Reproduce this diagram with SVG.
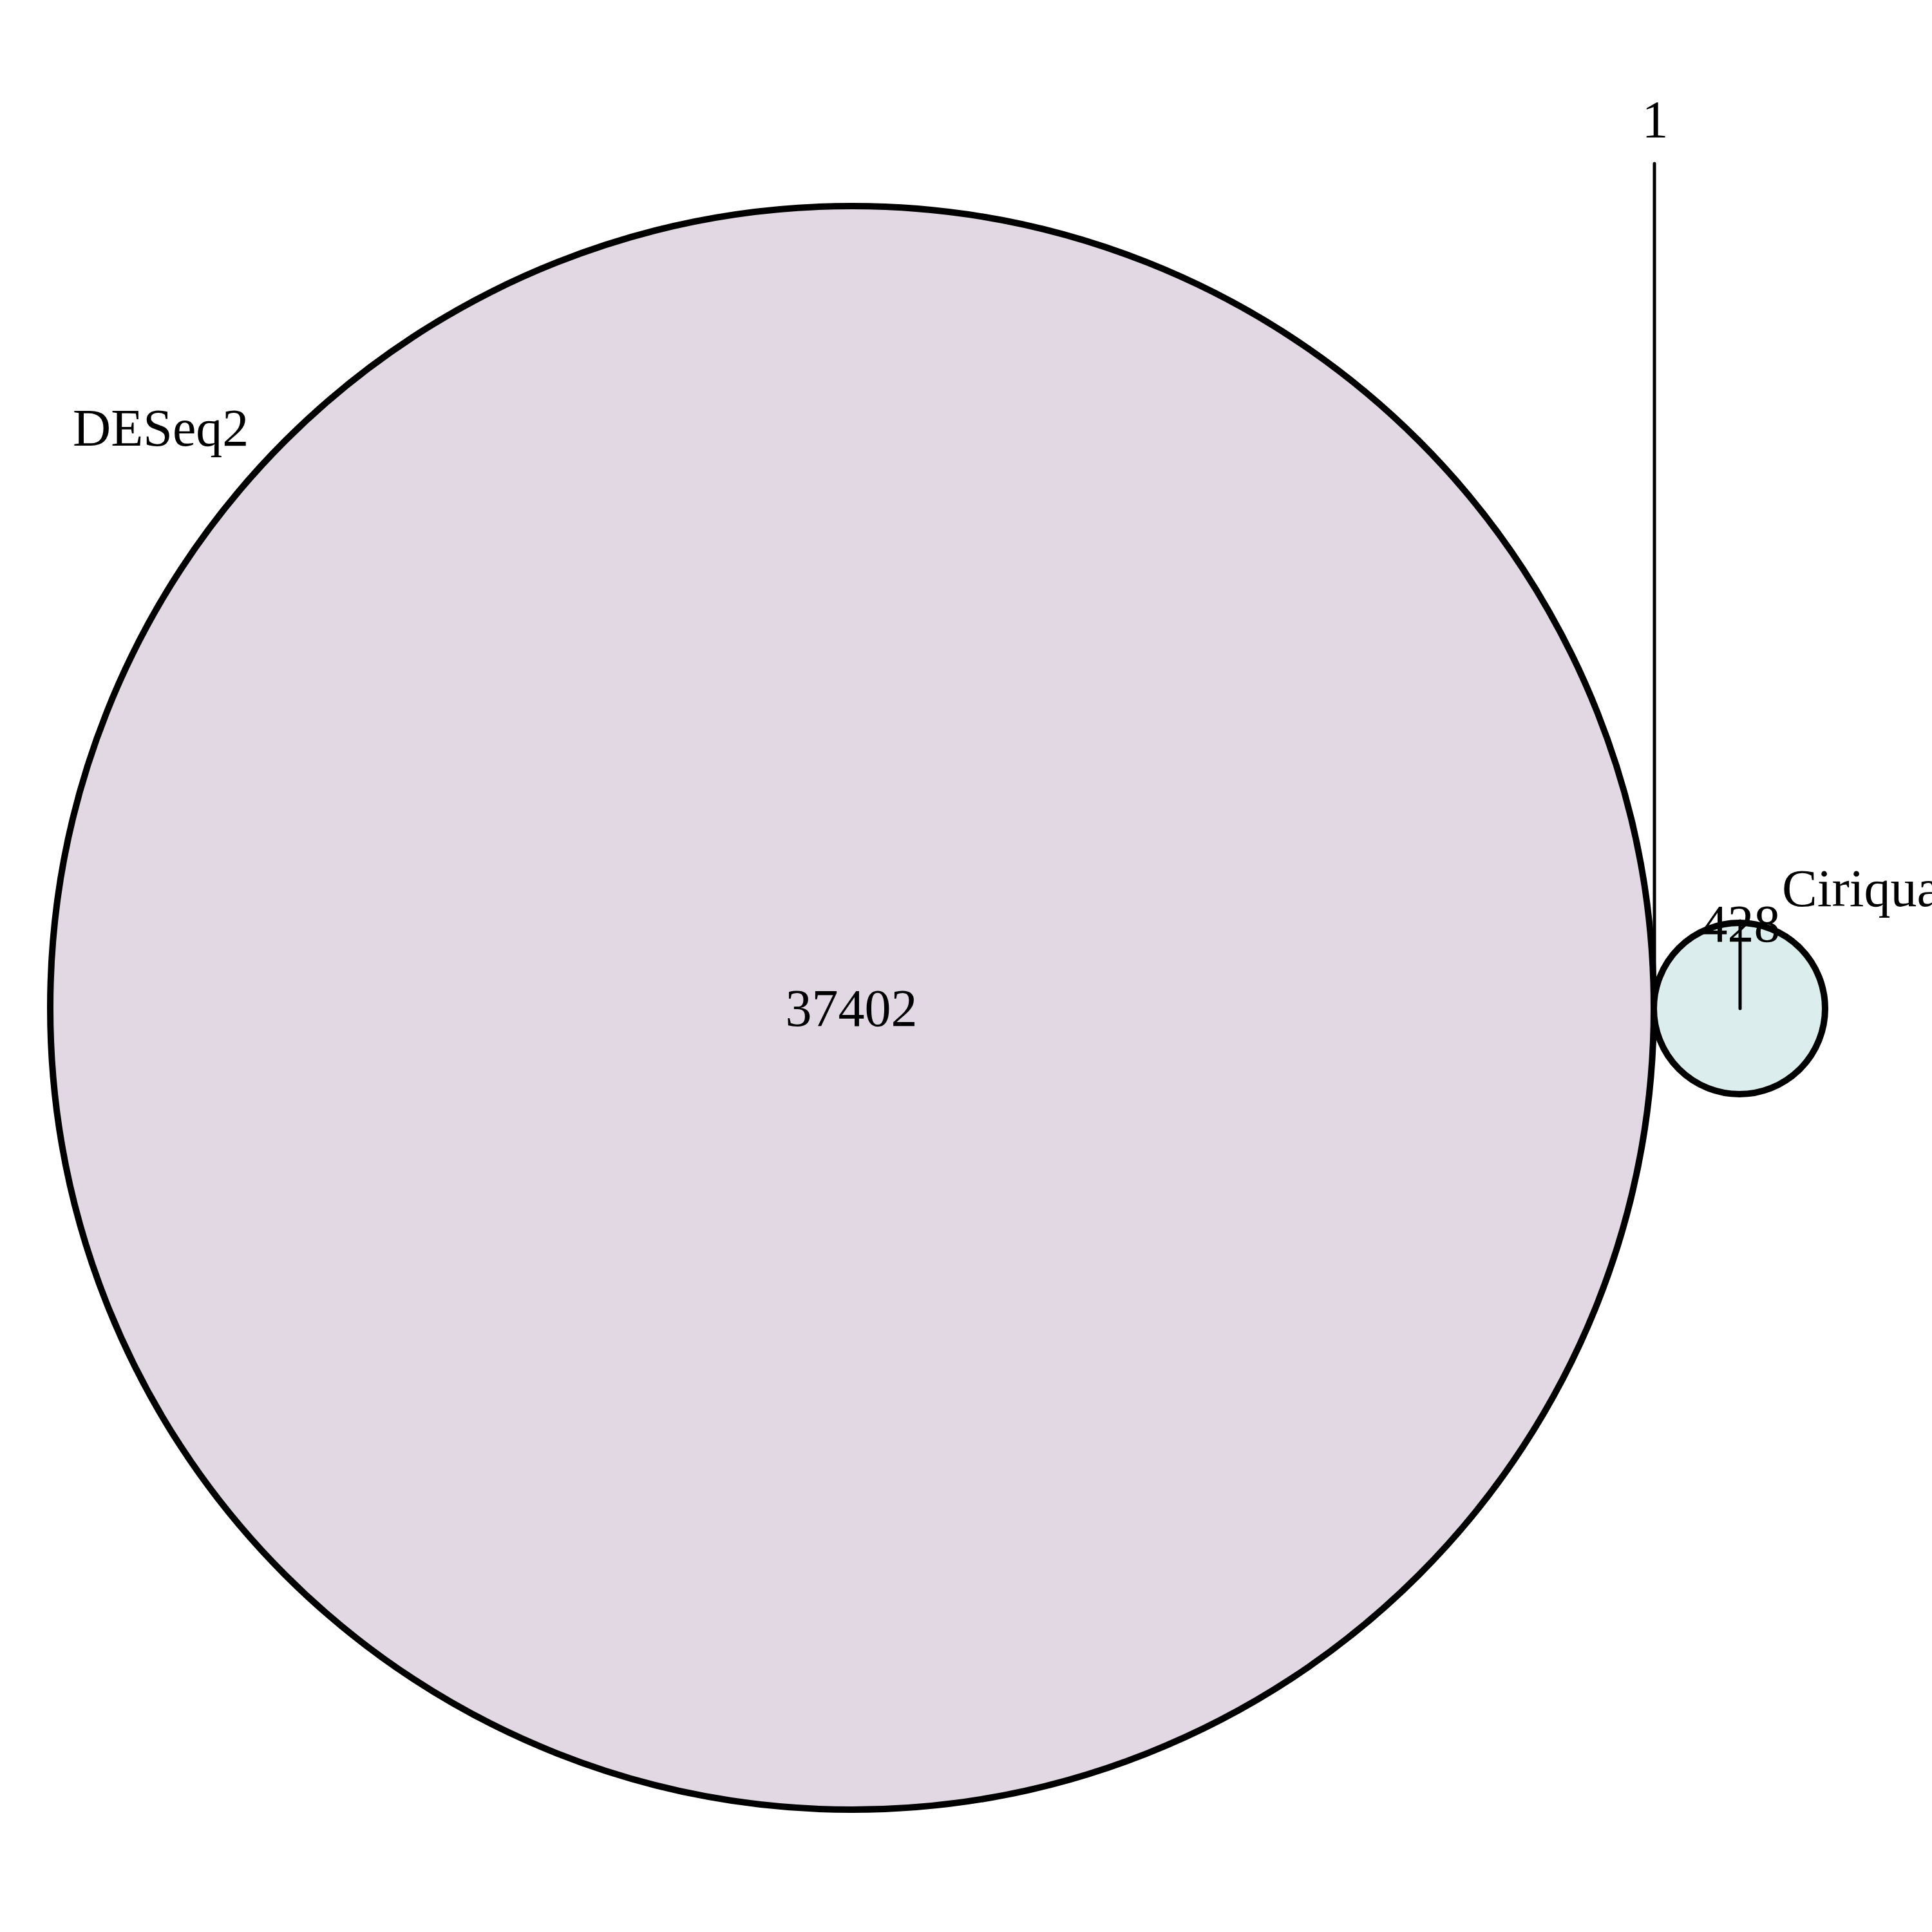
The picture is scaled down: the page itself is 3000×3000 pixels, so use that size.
<svg xmlns="http://www.w3.org/2000/svg" width="3000" height="3000" viewBox="0 0 3000 3000">
<style>
.set{stroke:#000;stroke-width:10}
.lbl{font-family:"Liberation Serif","Times New Roman",serif;font-size:82px;fill:#000}
.conn{stroke:#000;stroke-width:5;stroke-linecap:round;fill:none}
</style>
<rect width="3000" height="3000" fill="#fff"/>
<g id="deseq2">
<circle class="set" cx="1323" cy="1565" r="1245" fill="#E2D8E4"/>
<text class="lbl" x="113" y="692">DESeq2</text>
<text class="lbl" x="1322" y="1593" text-anchor="middle">37402</text>
</g>
<g id="ciriquant">
<circle class="set" cx="2701" cy="1566" r="133" fill="#DBEDED"/>
<text class="lbl" x="2767" y="1407">Ciriquant</text>
</g>
<g id="connectors">
<line class="conn" x1="2569" y1="254" x2="2569" y2="1566"/>
<line class="conn" x1="2702" y1="1430" x2="2702" y2="1566"/>
</g>
<g id="labels">
<text class="lbl" x="2570" y="213" text-anchor="middle">1</text>
<text class="lbl" x="2703" y="1462" text-anchor="middle">428</text>
</g>
</svg>
